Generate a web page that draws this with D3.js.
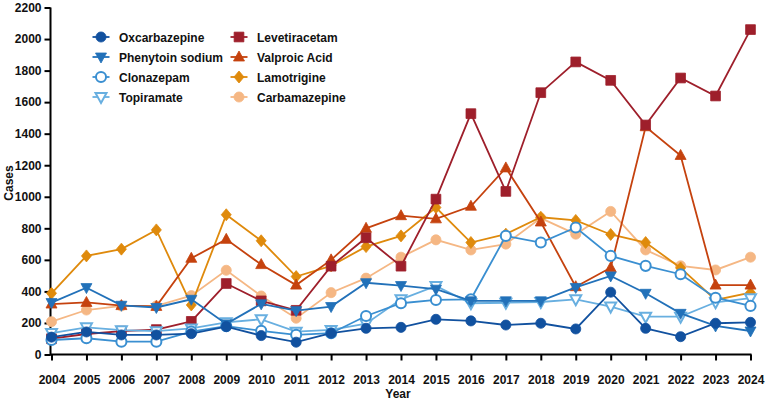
<!DOCTYPE html>
<html>
<head>
<meta charset="utf-8">
<script src="https://cdn.jsdelivr.net/npm/d3@7"></script>
<style>
  body { margin: 0; background: #fff; }
  svg text { font-family: "Liberation Sans", Arial, sans-serif; font-weight: bold; fill: #111; }
</style>
</head>
<body>
<div id="chart"></div>
<script>
let years = d3.range(2004, 2025);
let yTicks = d3.range(0, 2201, 200);

let oxcarbazepine = [110, 143, 124, 124, 132, 177, 120, 78, 135, 166, 172, 223, 213, 187, 198, 162, 395, 166, 113, 198, 204];
let phenytoin = [329, 424, 312, 298, 350, 194, 321, 278, 304, 455, 437, 414, 340, 340, 340, 425, 498, 388, 261, 181, 149];
let clonazepam = [92, 103, 81, 81, 145, 180, 150, 125, 135, 244, 325, 346, 350, 752, 710, 805, 625, 562, 509, 360, 308];
let topiramate = [136, 172, 154, 148, 165, 204, 223, 145, 156, 195, 350, 435, 325, 328, 333, 350, 304, 240, 240, 331, 357];
let levetiracetam = [100, 130, 148, 158, 210, 450, 340, 280, 560, 740, 560, 985, 1527, 1034, 1660, 1855, 1738, 1455, 1753, 1639, 2060];
let valproic = [320, 330, 310, 305, 610, 730, 570, 440, 600, 800, 880, 860, 940, 1183, 840, 430, 550, 1444, 1262, 440, 440];
let lamotrigine = [388, 625, 668, 790, 314, 886, 721, 494, 562, 684, 752, 932, 710, 763, 870, 850, 761, 710, 549, 346, 392];
let carbamazepine = [208, 282, 308, 308, 373, 534, 371, 230, 392, 484, 617, 727, 663, 700, 865, 763, 907, 663, 562, 536, 617];

let series = [
  { name: 'Oxcarbazepine', values: oxcarbazepine, color: '#11519f', symbol: 'circle', open: false },
  { name: 'Phenytoin sodium', values: phenytoin, color: '#2271b9', symbol: 'down', open: false },
  { name: 'Clonazepam', values: clonazepam, color: '#3a8fd1', symbol: 'circle', open: true },
  { name: 'Topiramate', values: topiramate, color: '#68afe0', symbol: 'down', open: true },
  { name: 'Levetiracetam', values: levetiracetam, color: '#9e1f2b', symbol: 'square', open: false },
  { name: 'Valproic Acid', values: valproic, color: '#c5420e', symbol: 'up', open: false },
  { name: 'Lamotrigine', values: lamotrigine, color: '#df8a0c', symbol: 'diamond', open: false },
  { name: 'Carbamazepine', values: carbamazepine, color: '#f5b784', symbol: 'circle', open: false }
];

let width = 767, height = 401;
let svg = d3.select('#chart').append('svg').attr('width', width).attr('height', height);

let xScale = d3.scaleLinear().domain([2004, 2024]).range([51.5, 750.5]);
let yScale = d3.scaleLinear().domain([0, 2200]).range([354.5, 7.5]);

// axes
svg.append('g')
   .attr('transform', `translate(0, ${yScale(0)})`)
   .call(d3.axisBottom(xScale).tickValues(years).tickFormat(d3.format('d')).tickSize(6).tickPadding(15))
   .call(g => g.select('.domain').attr('stroke-width', 2).attr('d', `M${xScale(2004) - 1},0H${xScale(2024) + 1}`))
   .call(g => g.selectAll('.tick line').attr('stroke-width', 2))
   .call(g => g.selectAll('text').style('font-size', '12px').attr('fill', '#111'));

svg.append('g')
   .attr('transform', `translate(${xScale(2004) - 1}, 0)`)
   .call(d3.axisLeft(yScale).tickValues(yTicks).tickFormat(d3.format('d')).tickSize(6).tickPadding(3))
   .call(g => g.select('.domain').attr('stroke-width', 2).attr('d', `M0,${yScale(2200)}V${yScale(0) + 1}`))
   .call(g => g.selectAll('.tick line').attr('stroke-width', 2))
   .call(g => g.selectAll('text').style('font-size', '12px').attr('fill', '#111'));

svg.append('text').attr('x', 398).attr('y', 398).attr('text-anchor', 'middle')
   .style('font-size', '12px').text('Year');
svg.append('text').attr('transform', `translate(13, 183) rotate(-90)`).attr('text-anchor', 'middle')
   .style('font-size', '12px').text('Cases');

function symbolPath(sym) {
  if (sym === 'circle') return d3.symbol(d3.symbolCircle, 80)();
  if (sym === 'square') return d3.symbol(d3.symbolSquare, 95)();
  if (sym === 'diamond') return 'M0,-6L5,0L0,6L-5,0Z';
  if (sym === 'up') return 'M0,-6L5.5,4L-5.5,4Z';
  if (sym === 'down') return 'M0,6L5.5,-4L-5.5,-4Z';
}

let line = d3.line().x((v, i) => xScale(years[i])).y(v => yScale(v));

// draw lines and markers
let drawOrder = [7, 6, 5, 4, 3, 2, 1, 0];
drawOrder.forEach(k => {
  let s = series[k];
  let g = svg.append('g');
  g.append('path').attr('d', line(s.values)).attr('fill', 'none')
   .attr('stroke', s.color).attr('stroke-width', 1.8);
  g.selectAll('path.mk').data(s.values).enter().append('path')
   .attr('class', 'mk')
   .attr('d', symbolPath(s.symbol))
   .attr('transform', (v, i) => `translate(${xScale(years[i])}, ${yScale(v)})`)
   .attr('fill', s.open ? '#fff' : s.color)
   .attr('stroke', s.color)
   .attr('stroke-width', s.open ? 2 : 0.8);
});

// legend
let legend = svg.append('g');
series.forEach((s, i) => {
  let col = Math.floor(i / 4), row = i % 4;
  let cx = col === 0 ? 101 : 239;
  let cy = 37 + row * 20;
  let lg = legend.append('g').attr('transform', `translate(${cx}, ${cy})`);
  lg.append('line').attr('x1', -8.5).attr('x2', 8.5).attr('stroke', s.color).attr('stroke-width', 1.8);
  lg.append('path').attr('d', symbolPath(s.symbol))
    .attr('fill', s.open ? '#fff' : s.color).attr('stroke', s.color)
    .attr('stroke-width', s.open ? 2 : 0.8);
  lg.append('text').attr('x', 18).attr('y', 4.5).style('font-size', '12px').text(s.name);
});
</script>
</body>
</html>
